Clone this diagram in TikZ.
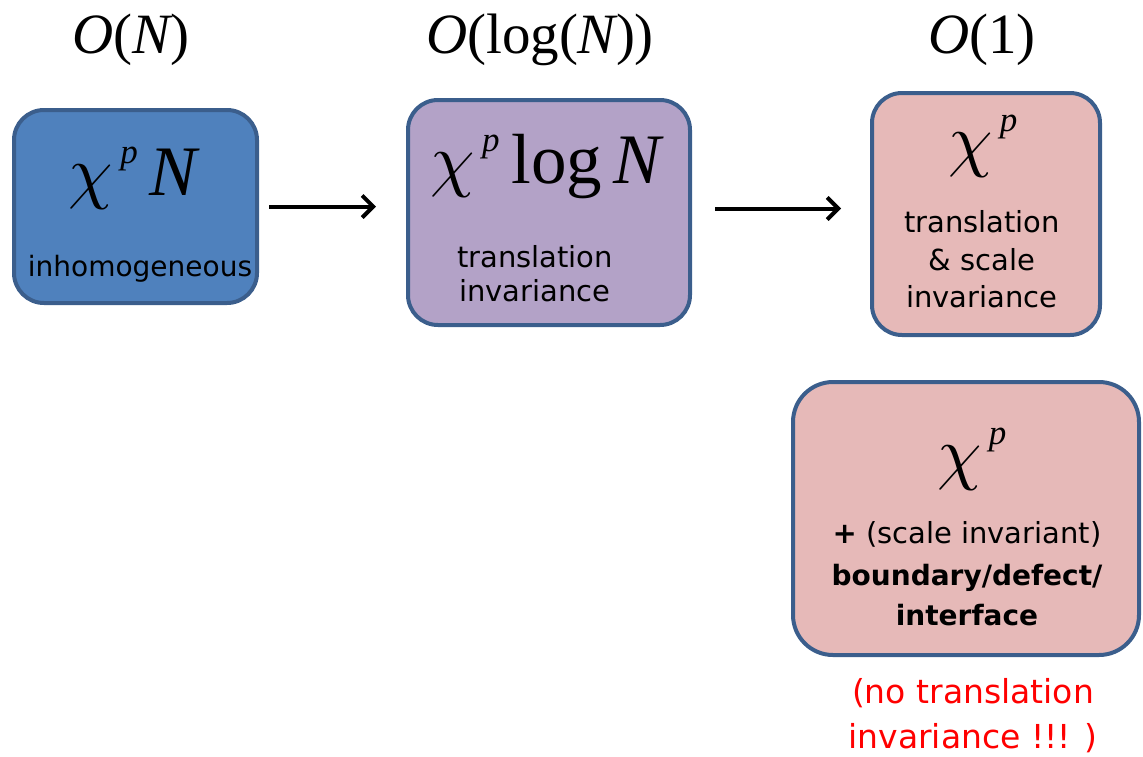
\documentclass[tikz,border=0pt]{standalone}
\usepackage{fontspec}
\usepackage{graphicx}
\usetikzlibrary{arrows.meta}
\newfontfamily\tms{Liberation Serif}
\newfontfamily\hand{DejaVu Sans}
\definecolor{edgeblue}{HTML}{3B5E8C}
\definecolor{fillblue}{HTML}{4F81BD}
\definecolor{fillviolet}{HTML}{B3A2C7}
\definecolor{fillrose}{HTML}{E6B9B8}
\newcommand{\sym}[1]{{\itshape #1}}
% chi with superscript p, chi scaled up from a 10pt math glyph
\newcommand{\chip}{\scalebox{7.1}{\fontsize{10}{12}\selectfont$\chi$}\kern7pt\raisebox{32pt}{\tms\fontsize{35}{37}\selectfont\itshape p}}
\tikzset{
  panel/.style={draw=edgeblue, line width=4pt, rounded corners=30pt, inner sep=0pt},
  order/.style={anchor=base, inner sep=0pt, font=\tms\fontsize{57}{62}\selectfont},
  formula/.style={anchor=base, inner sep=0pt, font=\tms\fontsize{71}{76}\selectfont},
  caption/.style={anchor=base, inner sep=0pt, font=\hand\fontsize{29}{33}\selectfont},
  strong/.style={caption, font=\hand\bfseries\fontsize{28}{32}\selectfont},
  warn/.style={caption, text=red, font=\hand\fontsize{33}{37}\selectfont},
  flow/.style={line width=4pt, -{Straight Barb[length=11pt,width=22pt,line width=4pt]}}
}
\begin{document}
\begin{tikzpicture}[x=1pt,y=-1pt]
\useasboundingbox (0,0) rectangle (1143,756);

% complexity headings
\node[order] (o1) at (131,53) {\sym{O}(\sym{N})};
\node[order] (o2) at (540,53) {\sym{O}(log(\sym{N}))};
\node[order] (o3) at (982,53) {\sym{O}(1)};

% panels
\node[panel, fill=fillblue, minimum width=243pt, minimum height=193pt] (b1) at (135.5,206.5) {};
\node[panel, fill=fillviolet, minimum width=282pt, minimum height=225pt] (b2) at (549,212.5) {};
\node[panel, fill=fillrose, minimum width=228pt, minimum height=242pt] (b3) at (986,214) {};
\node[panel, fill=fillrose, rounded corners=40pt, minimum width=346pt, minimum height=273pt] (b4) at (966,518.5) {};

% formulas
\node[formula] (f1) at (133,195) {\chip\,\sym{N}};
\node[formula] (f2) at (546,183) {\chip\,log\,\sym{N}};
\node[formula] (f3) at (983,163) {\chip};
\node[formula] (f4) at (972,476) {\chip};

% descriptions
\node[caption, font=\hand\fontsize{28}{32}\selectfont] (t1) at (140,276) {inhomogeneous};
\node[caption] (t2a) at (535,267) {translation};
\node[caption] (t2b) at (535,301) {invariance};
\node[caption] (t3a) at (982,232) {translation};
\node[caption] (t3b) at (982,270) {\& scale};
\node[caption] (t3c) at (982,307) {invariance};
\node[caption] (t4a) at (967,543) {\textbf{+} (scale invariant)};
\node[strong] (t4b) at (967,585) {boundary/defect/};
\node[strong] (t4c) at (967,625) {interface};
\node[warn] (n1) at (973,703) {(no translation};
\node[warn] (n2) at (973,748) {invariance !!! )};

% arrows between panels
\draw[flow, shorten <=10pt, shorten >=30pt] (b1.east) -- (b1.east -| b2.west);
\draw[flow, shorten <=23pt, shorten >=29pt] ([yshift=4pt]b2.east) -- ([yshift=4pt]b2.east -| b3.west);
\end{tikzpicture}
\end{document}
